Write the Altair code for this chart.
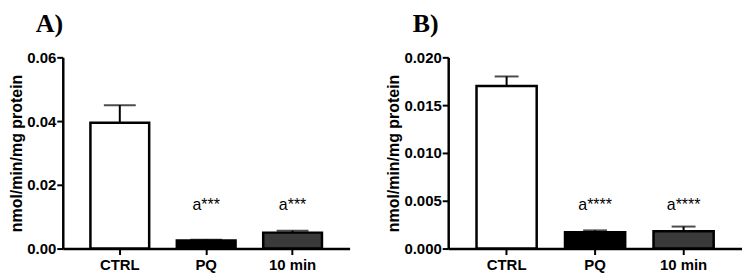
import altair as alt
import pandas as pd

categories = ["CTRL", "PQ", "10 min"]
a_means = [0.0395, 0.0025, 0.0050]
a_errs = [0.0055, 0.0003, 0.0006]
a_labels = ["", "a***", "a***"]
a_label_y = 0.0112
b_means = [0.0170, 0.0017, 0.0018]
b_errs = [0.0010, 0.0002, 0.0005]
b_labels = ["", "a****", "a****"]
b_label_y = 0.00375
fills = ["#ffffff", "#000000", "#3a3a3a"]

FONT = "Liberation Sans"


def panel(title, means, errs, labels, label_y, ymax, tick_vals, fmt, cap, w):
    df = pd.DataFrame({
        "cat": categories,
        "mean": means,
        "top": [m + e for m, e in zip(means, errs)],
        "label": labels,
        "ly": [label_y] * 3,
    })
    x = alt.X("cat:N", sort=categories, title=None,
              scale=alt.Scale(paddingInner=0.32, paddingOuter=0.32),
              axis=alt.Axis(labelAngle=0, labelFont=FONT, labelFontSize=15,
                            labelFontWeight="bold", labelColor="black",
                            domainColor="black", domainWidth=2.5,
                            tickColor="black", tickWidth=2, tickSize=6,
                            labelPadding=3))
    yscale = alt.Scale(domain=[0, ymax], nice=False)
    yaxis = alt.Axis(values=tick_vals, format=fmt, title="nmol/min/mg protein",
                     titleFont=FONT, titleFontSize=16, titleFontWeight="bold",
                     titleColor="black", labelFont=FONT, labelFontSize=15,
                     labelFontWeight="bold", labelColor="black",
                     domainColor="black", domainWidth=2.5, tickColor="black",
                     tickWidth=2, tickSize=6, grid=False, labelPadding=1,
                     titlePadding=2)
    base = alt.Chart(df)
    err = base.mark_rule(color="black", strokeWidth=2).encode(
        x=x, y=alt.Y("mean:Q", scale=yscale, axis=yaxis), y2="top:Q")
    capm = base.mark_tick(orient="horizontal", color="black", thickness=2,
                          size=cap).encode(x=x, y=alt.Y("top:Q", scale=yscale))
    bars = base.mark_bar(stroke="black", strokeWidth=2.5).encode(
        x=x, y=alt.Y("mean:Q", scale=yscale, axis=yaxis),
        fill=alt.Fill("cat:N", scale=alt.Scale(domain=categories, range=fills),
                      legend=None))
    txt = base.mark_text(baseline="bottom", font=FONT, fontSize=16,
                         color="black").encode(
        x=x, y=alt.Y("ly:Q", scale=yscale), text="label:N")
    return alt.layer(err, capm, bars, txt).properties(
        width=w, height=192,
        title=alt.TitleParams(title, font="Liberation Serif", fontSize=26,
                              fontWeight="bold", color="black", anchor="start",
                              frame="bounds", dx=27, offset=13))


a = panel("A)", a_means, a_errs, a_labels, a_label_y, 0.06,
          [0, 0.02, 0.04, 0.06], ".2f", 32, 288)
b = panel("B)", b_means, b_errs, b_labels, b_label_y, 0.02,
          [0, 0.005, 0.01, 0.015, 0.02], ".3f", 24, 295)

chart = alt.hconcat(a, b, spacing=36).configure(
    background="white", padding={"left": 0, "top": 3, "right": 0, "bottom": 0}
).configure_view(strokeWidth=0)

chart.save("out.html", embed_options={"renderer": "svg", "actions": False})
